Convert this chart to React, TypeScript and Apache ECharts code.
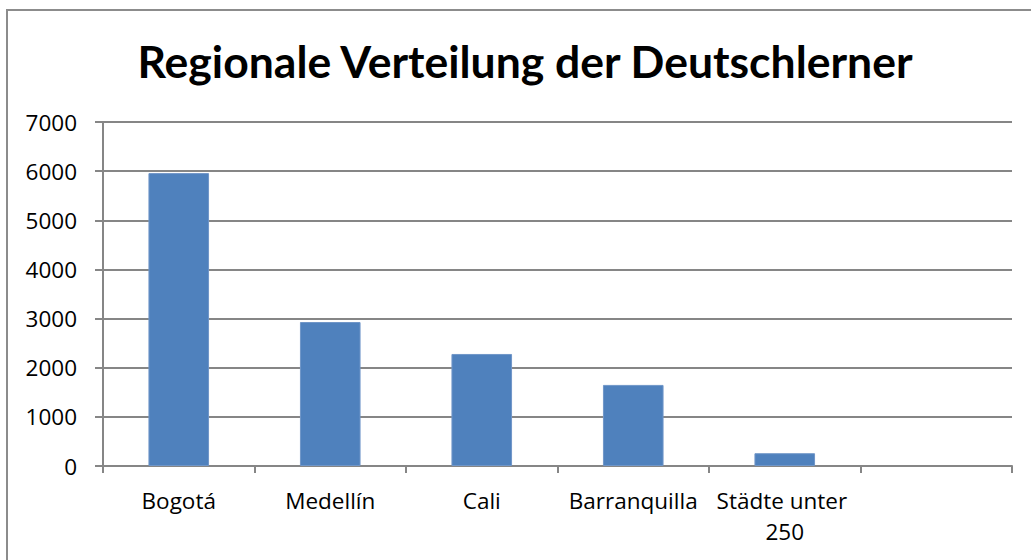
import React, { useEffect, useRef } from "react";
import * as echarts from "echarts";

const titleText = "Regionale Verteilung der Deutschlerner";
const categories = ["Bogotá", "Medellín", "Cali", "Barranquilla", "Städte unter 250", ""];
const learners = [5960, 2930, 2280, 1650, 260, null];
const yMin = 0;
const yMax = 7000;
const yInterval = 1000;

export default function App() {
  const ref = useRef<HTMLDivElement>(null);
  useEffect(() => {
    if (!ref.current) return;
    const chart = echarts.init(ref.current, null, { renderer: "svg" });
    chart.setOption({
      animation: false,
      backgroundColor: "#ffffff",
      title: {
        text: titleText,
        left: 520,
        top: 31,
        textAlign: "center",
        textStyle: {
          fontFamily: "Lato",
          fontWeight: "bold",
          fontSize: 44.5,
          lineHeight: 48,
          color: "#000000",
        },
      },
      graphic: [
        {
          type: "rect",
          shape: { x: 7, y: 10, width: 1100, height: 700 },
          style: { fill: "none", stroke: "#8c8c8c", lineWidth: 2 },
          silent: true,
        },
      ],
      grid: { left: 103, right: 19, top: 122, bottom: 94, containLabel: false },
      xAxis: {
        type: "category",
        data: categories,
        axisLine: { lineStyle: { color: "#868686", width: 2 } },
        axisTick: { show: true, length: 7, lineStyle: { color: "#868686", width: 2 } },
        axisLabel: {
          color: "#000000",
          fontFamily: "Open Sans",
          fontSize: 22.5,
          lineHeight: 31,
          margin: 19,
          interval: 0,
          width: 150,
          overflow: "break",
        },
      },
      yAxis: {
        type: "value",
        min: yMin,
        max: yMax,
        interval: yInterval,
        axisLine: { show: true, lineStyle: { color: "#868686", width: 2 } },
        axisTick: { show: true, length: 8, lineStyle: { color: "#868686", width: 2 } },
        splitLine: { show: true, lineStyle: { color: "#868686", width: 2 } },
        axisLabel: {
          color: "#000000",
          fontFamily: "Open Sans",
          fontSize: 22.5,
          margin: 26,
          formatter: (v: number) => String(v),
        },
      },
      series: [
        {
          type: "bar",
          data: learners,
          barCategoryGap: "60%",
          itemStyle: { color: "#4F81BD", borderColor: "#7096c8", borderWidth: 1 },
        },
      ],
    });
    return () => chart.dispose();
  }, []);
  return (
    <div
      ref={ref}
      style={{ position: "absolute", left: 0, top: 0, width: 1031, height: 560 }}
    />
  );
}
